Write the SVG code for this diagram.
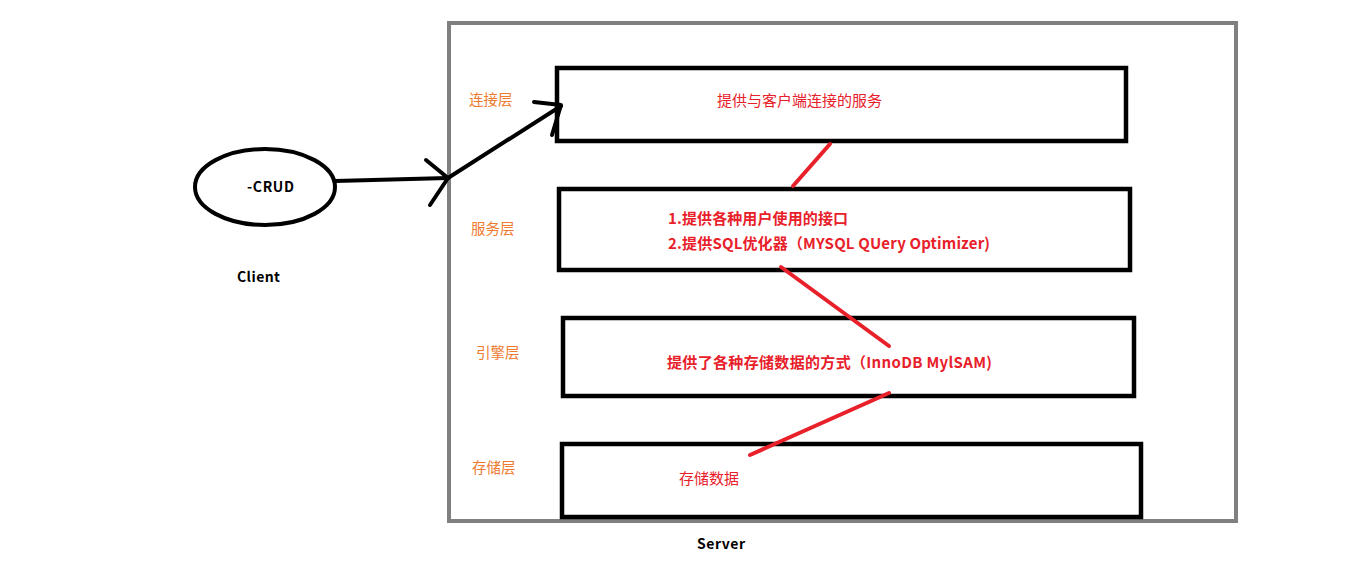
<svg xmlns="http://www.w3.org/2000/svg" width="1347" height="567" viewBox="0 0 1347 567">
<style>
.box{fill:none;stroke:#000;stroke-width:4.5}
.layer{font-family:"Noto Sans CJK SC","Noto Sans",sans-serif;font-size:14.5px;fill:#ee7b30}
.red{font-family:"Noto Sans CJK SC","Noto Sans",sans-serif;font-size:15px;fill:#e8202a}
.redb{font-family:"Noto Sans CJK SC","Noto Sans",sans-serif;font-size:15px;fill:#e8202a;font-weight:bold}
.blk{font-family:"Noto Sans CJK SC","Noto Sans",sans-serif;font-size:14px;fill:#000;font-weight:bold}
.arrow{fill:none;stroke:#000;stroke-width:4;stroke-linecap:round;stroke-linejoin:round}
.rl{fill:none;stroke:#e8202a;stroke-width:4;stroke-linecap:round}
</style>
<rect width="1347" height="567" fill="#fff"/>
<g id="server">
<rect x="449" y="23" width="787" height="498" fill="none" stroke="#808080" stroke-width="4"/>
<text class="blk" x="697" y="549" textLength="48">Server</text>
</g>
<g id="client">
<ellipse cx="265" cy="187" rx="70" ry="38" fill="none" stroke="#000" stroke-width="4"/>
<text class="blk" x="247" y="192" textLength="47">-CRUD</text>
<text class="blk" x="237" y="282" textLength="43">Client</text>
</g>
<g id="connection-layer">
<text class="layer" x="469" y="105">连接层</text>
<rect class="box" x="557" y="68" width="569" height="73"/>
<text class="red" x="717" y="106" textLength="165">提供与客户端连接的服务</text>
</g>
<g id="service-layer">
<text class="layer" x="471" y="234">服务层</text>
<rect class="box" x="559" y="189" width="571" height="81"/>
<text class="redb" x="668" y="224" textLength="180">1.提供各种用户使用的接口</text>
<text class="redb" x="668" y="249" textLength="322">2.提供SQL优化器（MYSQL QUery Optimizer)</text>
</g>
<g id="engine-layer">
<text class="layer" x="476" y="358">引擎层</text>
<rect class="box" x="563" y="318" width="571" height="78"/>
<text class="redb" x="667" y="368" textLength="325">提供了各种存储数据的方式（InnoDB MylSAM)</text>
</g>
<g id="storage-layer">
<text class="layer" x="472" y="473">存储层</text>
<rect class="box" x="562" y="444" width="579" height="73"/>
<text class="red" x="679" y="484" textLength="60">存储数据</text>
</g>
<g id="connectors">
<path class="arrow" d="M335 181 L448 178"/>
<path class="arrow" d="M426 160 L448 178 L430 205"/>
<path class="arrow" d="M448 178 L561 106"/>
<path class="arrow" d="M534 102 L561 105 L552 135"/>
<path class="rl" d="M830 144 L793 186"/>
<path class="rl" d="M781 267 L889 346"/>
<path class="rl" d="M889 393 L750 455"/>
</g>
</svg>
